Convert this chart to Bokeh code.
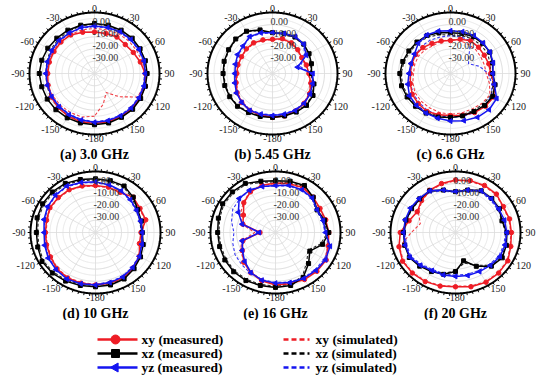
import numpy as np
from bokeh.plotting import figure
from bokeh.layouts import column, row
from bokeh.models import Range1d, Label
from bokeh.embed import file_html
from bokeh.resources import INLINE

# ---------------- data (dB) at these angles (deg, clockwise from top) ----------------
ANGLES = [-180, -165, -150, -135, -120, -105, -90, -75, -60, -45, -30, -15,
          0, 15, 30, 45, 60, 75, 90, 105, 120, 135, 150, 165]

# (a) 3.0 GHz
A_XY_MEAS = [1, 1, 0.5, -0.5, -1.5, -3, -4, -4, -4, -3.5, -3.5, -5, -6, -6, -5.5, -6.5, -5.5, -3.5, -1, 0.5, 0.5, 0.5, 1, 1]
A_XZ_MEAS = [2, 2, 2, 2, 2, 2, 2.5, 2, 1.5, 1, 1, 1, 1, 1, 1, 1, 0.5, 0.5, 0.5, 0.5, 1, 1.5, 1.5, 2]
A_YZ_MEAS = [0, -0.5, -1, -1.5, -2, -2.5, -2.5, -2.5, -2, -1.5, -1.5, -1, -1, -1, -0.5, -0.5, -0.5, -0.5, -1, -0.5, -0.5, 0, 0, 0]
A_XY_SIM = [-5, -3, -3, -3, -3, -3, -3.5, -3.5, -3, -3, -3, -3, -3, -3, -2.5, -2.5, -2.5, -2, -1, -1, -1.5, -13, -22, -14]
A_XZ_SIM = [1, 0.5, 0, -0.5, -1, -2, -2.5, -2, -1, -0.5, 0, 0.5, 0.5, 0.5, 0, 0, 0, -0.5, -0.5, 0, 0, 0.5, 0.5, 1]
A_YZ_SIM = [-0.5, -1, -1.5, -2, -2.5, -3, -3, -3, -2.5, -2, -2, -1.5, -1.5, -1.5, -1, -1, -1, -1, -1.5, -1, -1, -0.5, -0.5, -0.5]

# (b) 5.45 GHz
B_XY_MEAS = [-4, -4.5, -5, -6.5, -8.5, -11, -12.5, -12.5, -12.5, -11.5, -11, -11.5, -12, -10.5, -11, -12.5, -14, -13, -12, -9.5, -7, -5.5, -4.5, -4]
B_XZ_MEAS = [-4, -3.5, -3, -2, -2, -2, -2, -1.5, -1, 0, 0, -3, -6.5, -6, -5.5, -6, -7.5, -9, -10, -7, -4, -3, -3.5, -4]
B_YZ_MEAS = [-5.5, -5.5, -5, -6.5, -8, -10, -11, -10.5, -9, -8, -5, -5.5, -6.5, -6, -5, -6, -10, -20, -9, -8, -6.5, -5.5, -5, -5.5]
B_XY_SIM = [-4.5, -5, -5.5, -7, -9, -11.5, -13, -13, -12.5, -12, -11.5, -12, -12.5, -11, -11.5, -13, -14.5, -13.5, -12.5, -10, -7.5, -6, -5, -4.5]
B_XZ_SIM = [-4.5, -4, -3.5, -2.5, -2.5, -2.5, -2.5, -2, -1.5, -0.5, -0.5, -3.5, -7, -6.5, -6, -6.5, -8, -9.5, -10.5, -7.5, -4.5, -3.5, -4, -4.5]
B_YZ_SIM = [-6, -6, -5.5, -7, -8.5, -10.5, -11.5, -11, -9.5, -8.5, -5.5, -6, -7, -6.5, -5.5, -6.5, -11, -18, -10, -8.5, -7, -6, -5.5, -6]

# (c) 6.6 GHz
C_XY_MEAS = [-5.5, -5, -4, -5, -6, -8, -9, -9, -9, -10, -11.5, -12.5, -13, -11, -9, -9.5, -10, -9.5, -9, -5, -1.5, -2, -3, -4.5]
C_XZ_MEAS = [-4, -3, -2.5, -2, -1.5, -1, -1, -2, -3, -3.5, -4, -5.5, -6.5, -6, -5, -5, -5, -6.5, -7.5, -4.5, -2.5, -3, -4, -4]
C_YZ_MEAS = [-1, -2, -2.5, -3, -3.5, -6, -8, -8.5, -8, -5, -3.5, -4, -5, -4.5, -4, -4.5, -5, -6, -7.5, -5, 1, 2, 1.5, 0]
C_XY_SIM = [-6.5, -7, -7.5, -8, -8.5, -10, -11.5, -11.5, -11.5, -12.5, -13.5, -12.5, -12, -12, -12.5, -12.5, -13, -13, -12.5, -9, -5, -5.5, -6.5, -6.5]
C_XZ_SIM = [-5, -4, -3.5, -3, -2.5, -2, -2, -3, -4, -4.5, -5.5, -7, -8.5, -8, -7, -7, -7, -8.5, -9, -6, -4, -4.5, -5, -5]
C_YZ_SIM = [-4, -4.5, -5, -6, -7, -8, -9, -9, -9, -8.5, -8.5, -9, -9, -9, -9, -20, -24, -17, -11, -7, -3.5, -3, -3, -3.5]

# (d) 10 GHz
D_XY_MEAS = [3, 3, 3, 2, 0, -1, -1.5, -1, 0.5, 0.5, 0.5, -0.5, -1.5, -1.5, -2, 1, -0.5, 0, -5, -5, -1, 1, 3, 3]
D_XZ_MEAS = [4.5, 5, 6, 7, 7.5, 6, 5.5, 6.5, 7, 7, 6.5, 5, 4, 4, 4, 1, -2.5, -3.5, -4, -2, 0, 2, 4, 4.5]
D_YZ_MEAS = [3, 3.5, 4, 3, 2, 0.5, -0.5, 1, 2.5, 3.5, 4, 2.5, 1.5, 0.5, -0.5, -2, -3.5, -4, -4, -3, -1, 0.5, 2, 2.5]
D_XY_SIM = [2.5, 2.5, 2.5, 1.5, -0.5, -1.5, -2, -1.5, 0, 0, 0, -1, -2, -2, -2.5, 0.5, -1, -0.5, -4, -4, -1.5, 0.5, 2.5, 2.5]
D_XZ_SIM = [3.5, 4, 5, 6, 6.5, 5, 4.5, 5.5, 6, 6, 5.5, 4, 3, 3, 3, 0, -3.5, -4.5, -5, -3, -1, 1, 3, 3.5]
D_YZ_SIM = [2.5, 3, 3.5, 2.5, 1.5, 0, -1, 0.5, 2, 3, 3.5, 2, 1, 0, -1, -2.5, -4, -4.5, -4.5, -3.5, -1.5, 0, 1.5, 2]

# (e) 16 GHz
E_XY_MEAS = [3, 1, -2, -5.5, -10.5, -14, -28, -14, -11.5, -5.5, -1.5, 0, 0.5, 1.5, 2.5, 1, -0.5, 0, 1, 2, 5, 5, 4.5, 3.5]
E_XZ_MEAS = [5, 5, 5.5, 5.5, 5, 4.5, 4.5, 5.5, 7, 7, 6.5, 3.5, 2.5, 3.5, 4.5, 1, -3, -1, 1, -2.5, -9.5, -4, 2.5, 5]
E_YZ_MEAS = [1.5, 0.5, -2, -6.5, -10.5, -13.5, -27.5, -13.5, -7, -0.5, 0, -1, -1.5, 0, 0.5, 0, -3, -2, -1.5, 3.5, 4.5, 4, 3.5, 2.5]
E_XY_SIM = [2.5, 0.5, -2.5, -6, -9, -13, -24, -13, -9, -5, -1, 0, 0, 1, 2, 0.5, -1, -0.5, 0.5, 1.5, 4, 4.5, 4, 3]
E_XZ_SIM = [4, 4, 4.5, 4.5, 4, 3.5, 3.5, 4.5, 6, 6, 5.5, 2.5, 1.5, 2.5, 3.5, 0, -4, -2, 0, -4, -11, -6, 1.5, 4]
E_YZ_SIM = [1, 0, -1.5, -3, -4, -6, -8, -5, -2, -1, 0, -1, -2, -0.5, 0, -0.5, -3.5, -2.5, -2, 2.5, 3.5, 3, 3, 2]

# (f) 20 GHz
F_XY_MEAS = [4.5, 5.5, 6.5, 7, 7, 5, 2.5, -3, -6, -3, 0, 1.5, 3, 4, 4.5, 4.5, 2.5, 3, 3, 4, 6.5, 7, 7, 6]
F_XZ_MEAS = [-8, -4.5, -3, -1, 1, 0.5, 0, -0.5, -1, -1, -0.5, -4, -6.5, -4, -0.5, -0.5, -1, -3, -0.5, 0.5, 1.5, -1, -8, -16]
F_YZ_MEAS = [-4, -4, -4, -2, 0.5, 0, 0, 0, 0, -0.5, -0.5, -4, -6.5, -4, -0.5, -1, -1.5, -1, -0.5, -0.5, -0.5, -2, -3, -3.5]
F_XY_SIM = [4, 5, 6, 6.5, 6.5, 4.5, -6, -12, -7, -3.5, -0.5, 1, 2.5, 3.5, 4, 4, 2, 2.5, 2.5, 3.5, 6, 6.5, 6.5, 5.5]
F_XZ_SIM = [-9, -5, -3.5, -1.5, 0.5, 0, -0.5, -1, -1.5, -1.5, -1, -4.5, -7, -4.5, -1, -1, -1.5, -3.5, -1, 0, 1, -2, -9, -14]
F_YZ_SIM = [-5, -5, -5, -3, -0.5, -1, -1, -1, -1, -1.5, -1.5, -5, -7, -5, -1.5, -2, -2.5, -2, -1.5, -1.5, -1.5, -3, -4, -4.5]

TITLES = ["(a) 3.0 GHz", "(b) 5.45 GHz", "(c) 6.6 GHz", "(d) 10 GHz", "(e) 16 GHz", "(f) 20 GHz"]
ANGLE_TICKS = [0, 30, 60, 90, 120, 150, 180, 210, 240, 270, 300, 330]
ANGLE_LABELS = ["0", "30", "60", "90", "120", "150", "-180", "-150", "-120", "-90", "-60", "-30"]
RING_DB = [0, -10, -20, -30]
RING_LABELS = ["0.00", "-10.00", "-20.00", "-30.00"]

SERIES_NAMES = ["xy (measured)", "xz (measured)", "yz (measured)",
                "xy (simulated)", "xz (simulated)", "yz (simulated)"]

PANEL_DATA = [
    (A_XY_MEAS, A_XZ_MEAS, A_YZ_MEAS, A_XY_SIM, A_XZ_SIM, A_YZ_SIM),
    (B_XY_MEAS, B_XZ_MEAS, B_YZ_MEAS, B_XY_SIM, B_XZ_SIM, B_YZ_SIM),
    (C_XY_MEAS, C_XZ_MEAS, C_YZ_MEAS, C_XY_SIM, C_XZ_SIM, C_YZ_SIM),
    (D_XY_MEAS, D_XZ_MEAS, D_YZ_MEAS, D_XY_SIM, D_XZ_SIM, D_YZ_SIM),
    (E_XY_MEAS, E_XZ_MEAS, E_YZ_MEAS, E_XY_SIM, E_XZ_SIM, E_YZ_SIM),
    (F_XY_MEAS, F_XZ_MEAS, F_YZ_MEAS, F_XY_SIM, F_XZ_SIM, F_YZ_SIM),
]

# ---------------- styling / layout ----------------
RED = "#ee1c25"
BLACK = "#000000"
BLUE = "#1515f0"
COLORS = [RED, BLACK, BLUE]
SERIF = "Liberation Serif"
R_MIN = -40.0   # centre of polar plot (dB)
R_MAX = 10.0    # outer frame (dB)
RSPAN = R_MAX - R_MIN
RX_PX = 65.0
RY_PX = 61.0
KX = RX_PX / RSPAN
KY = RY_PX / RSPAN

PANEL_W = [180, 180, 179, 180, 180, 179]
PANEL_H = [162, 162, 162, 158, 158, 158]
CX = [94, 92, 90, 95, 95, 95]
CY = [73, 73, 73, 70, 70, 70]
TITLE_Y = [154, 154, 154, 151, 151, 151]


def to_xy(angles_deg, radius):
    th = np.radians(np.asarray(angles_deg, dtype=float))
    r = np.asarray(radius, dtype=float)
    return r * np.sin(th), r * np.cos(th)


def db_to_r(vals):
    return np.clip(np.asarray(vals, dtype=float) - R_MIN, 0, None)


def make_panel(i):
    w, h, cx, cy = PANEL_W[i], PANEL_H[i], CX[i], CY[i]
    p = figure(width=w, height=h,
               x_range=Range1d(-cx / KX, (w - cx) / KX),
               y_range=Range1d(-(h - cy) / KY, cy / KY),
               output_backend="svg", toolbar_location=None,
               x_axis_location=None, y_axis_location=None,
               min_border=0, outline_line_color=None,
               background_fill_color="white", border_fill_color="white")
    p.grid.visible = False

    circ = np.linspace(0, 360, 361)
    # grid rings and spokes
    for db in RING_DB + [-35, -25, -15, -5, 5]:
        gx, gy = to_xy(circ, np.full_like(circ, db - R_MIN))
        p.line(gx, gy, line_color="#e3e3e3" if db % 10 else "#d2d2d2", line_width=0.8)
    sx, sy = to_xy(list(range(0, 360, 30)), [RSPAN] * 12)
    p.segment(x0=[0] * 12, y0=[0] * 12, x1=sx, y1=sy, line_color="#dcdcdc", line_width=0.8)

    series = PANEL_DATA[i]
    ang_closed = ANGLES + [ANGLES[0]]
    # simulated (dashed)
    for k in range(3):
        vals = list(series[3 + k]) + [series[3 + k][0]]
        x, y = to_xy(ang_closed, db_to_r(vals))
        p.line(x, y, line_color=COLORS[k], line_width=1.1, line_dash="3 2", line_alpha=0.85)
    # measured (line + markers)
    for k in range(3):
        vals = list(series[k]) + [series[k][0]]
        x, y = to_xy(ang_closed, db_to_r(vals))
        p.line(x, y, line_color=COLORS[k], line_width=1.5)
        mx, my = x[:-1], y[:-1]
        if k == 0:
            p.scatter(mx, my, marker="circle", size=4.5, fill_color=RED, line_color=RED)
        elif k == 1:
            p.scatter(mx, my, marker="square", size=4, fill_color=BLACK, line_color=BLACK)
        else:
            p.scatter(mx, my, marker="triangle", size=5, angle=np.pi / 2,
                      fill_color=BLUE, line_color=BLUE)

    # outer frame + ticks
    fx, fy = to_xy(circ, np.full_like(circ, RSPAN))
    p.line(fx, fy, line_color="black", line_width=2)
    tick_ang = list(range(0, 360, 5))
    tx0, ty0 = to_xy(tick_ang, [RSPAN] * len(tick_ang))
    tx1, ty1 = to_xy(tick_ang, [RSPAN + 2.6 / KY] * len(tick_ang))
    p.segment(x0=tx0, y0=ty0, x1=tx1, y1=ty1, line_color="black", line_width=1)

    # angle labels
    for a, lab in zip(ANGLE_TICKS, ANGLE_LABELS):
        th = np.radians(a)
        s, c = np.sin(th), np.cos(th)
        lx = (RSPAN + 5 / KX) * s
        ly = (RSPAN + 4 / KY) * c
        if s > 0.1:
            align = "left"
        elif s < -0.1:
            align = "right"
        else:
            align = "center"
        p.add_layout(Label(x=lx, y=ly, text=lab, text_align=align, text_baseline="middle",
                           text_font=SERIF, text_font_size="10px", text_color="#222222"))
    # ring labels
    for db, lab in zip(RING_DB, RING_LABELS):
        p.add_layout(Label(x=-2 / KX, y=db - R_MIN + 3.5 / KY, text=lab, text_align="left",
                           text_baseline="middle", text_font=SERIF, text_font_size="10px",
                           text_color="#333333"))
    # title
    p.add_layout(Label(x=cx, y=h - TITLE_Y[i], x_units="screen", y_units="screen",
                       text=TITLES[i], text_align="center", text_baseline="middle",
                       text_font=SERIF, text_font_size="14px", text_font_style="bold",
                       text_color="black"))
    return p


panels = [make_panel(i) for i in range(6)]

# ---------------- legend strip ----------------
LEG_H = 59
leg = figure(width=539, height=LEG_H, x_range=Range1d(0, 539), y_range=Range1d(LEG_H, 0),
             output_backend="svg", toolbar_location=None,
             x_axis_location=None, y_axis_location=None,
             min_border=0, outline_line_color=None,
             background_fill_color="white", border_fill_color="white")
leg.grid.visible = False
ROW_Y = [19, 33, 47]
MARKERS = ["circle", "square", "triangle"]
M_SIZE = [9, 8, 9]
M_ANGLE = [0, 0, np.pi / 2]
for k in range(3):
    leg.line([97, 137], [ROW_Y[k], ROW_Y[k]], line_color=COLORS[k], line_width=2.5)
    leg.scatter([115], [ROW_Y[k]], marker=MARKERS[k], size=M_SIZE[k], angle=M_ANGLE[k],
                fill_color=COLORS[k], line_color=COLORS[k])
    leg.add_layout(Label(x=141, y=ROW_Y[k], text=SERIES_NAMES[k], text_align="left",
                         text_baseline="middle", text_font=SERIF, text_font_size="13.5px",
                         text_font_style="bold", text_color="black"))
    leg.line([283, 309], [ROW_Y[k], ROW_Y[k]], line_color=COLORS[k], line_width=2.5,
             line_dash="5 3")
    leg.add_layout(Label(x=315, y=ROW_Y[k], text=SERIES_NAMES[3 + k], text_align="left",
                         text_baseline="middle", text_font=SERIF, text_font_size="13.5px",
                         text_font_style="bold", text_color="black"))

layout = column(row(*panels[:3]), row(*panels[3:]), leg)

with open("out.html", "w") as f:
    f.write(file_html(layout, INLINE))
